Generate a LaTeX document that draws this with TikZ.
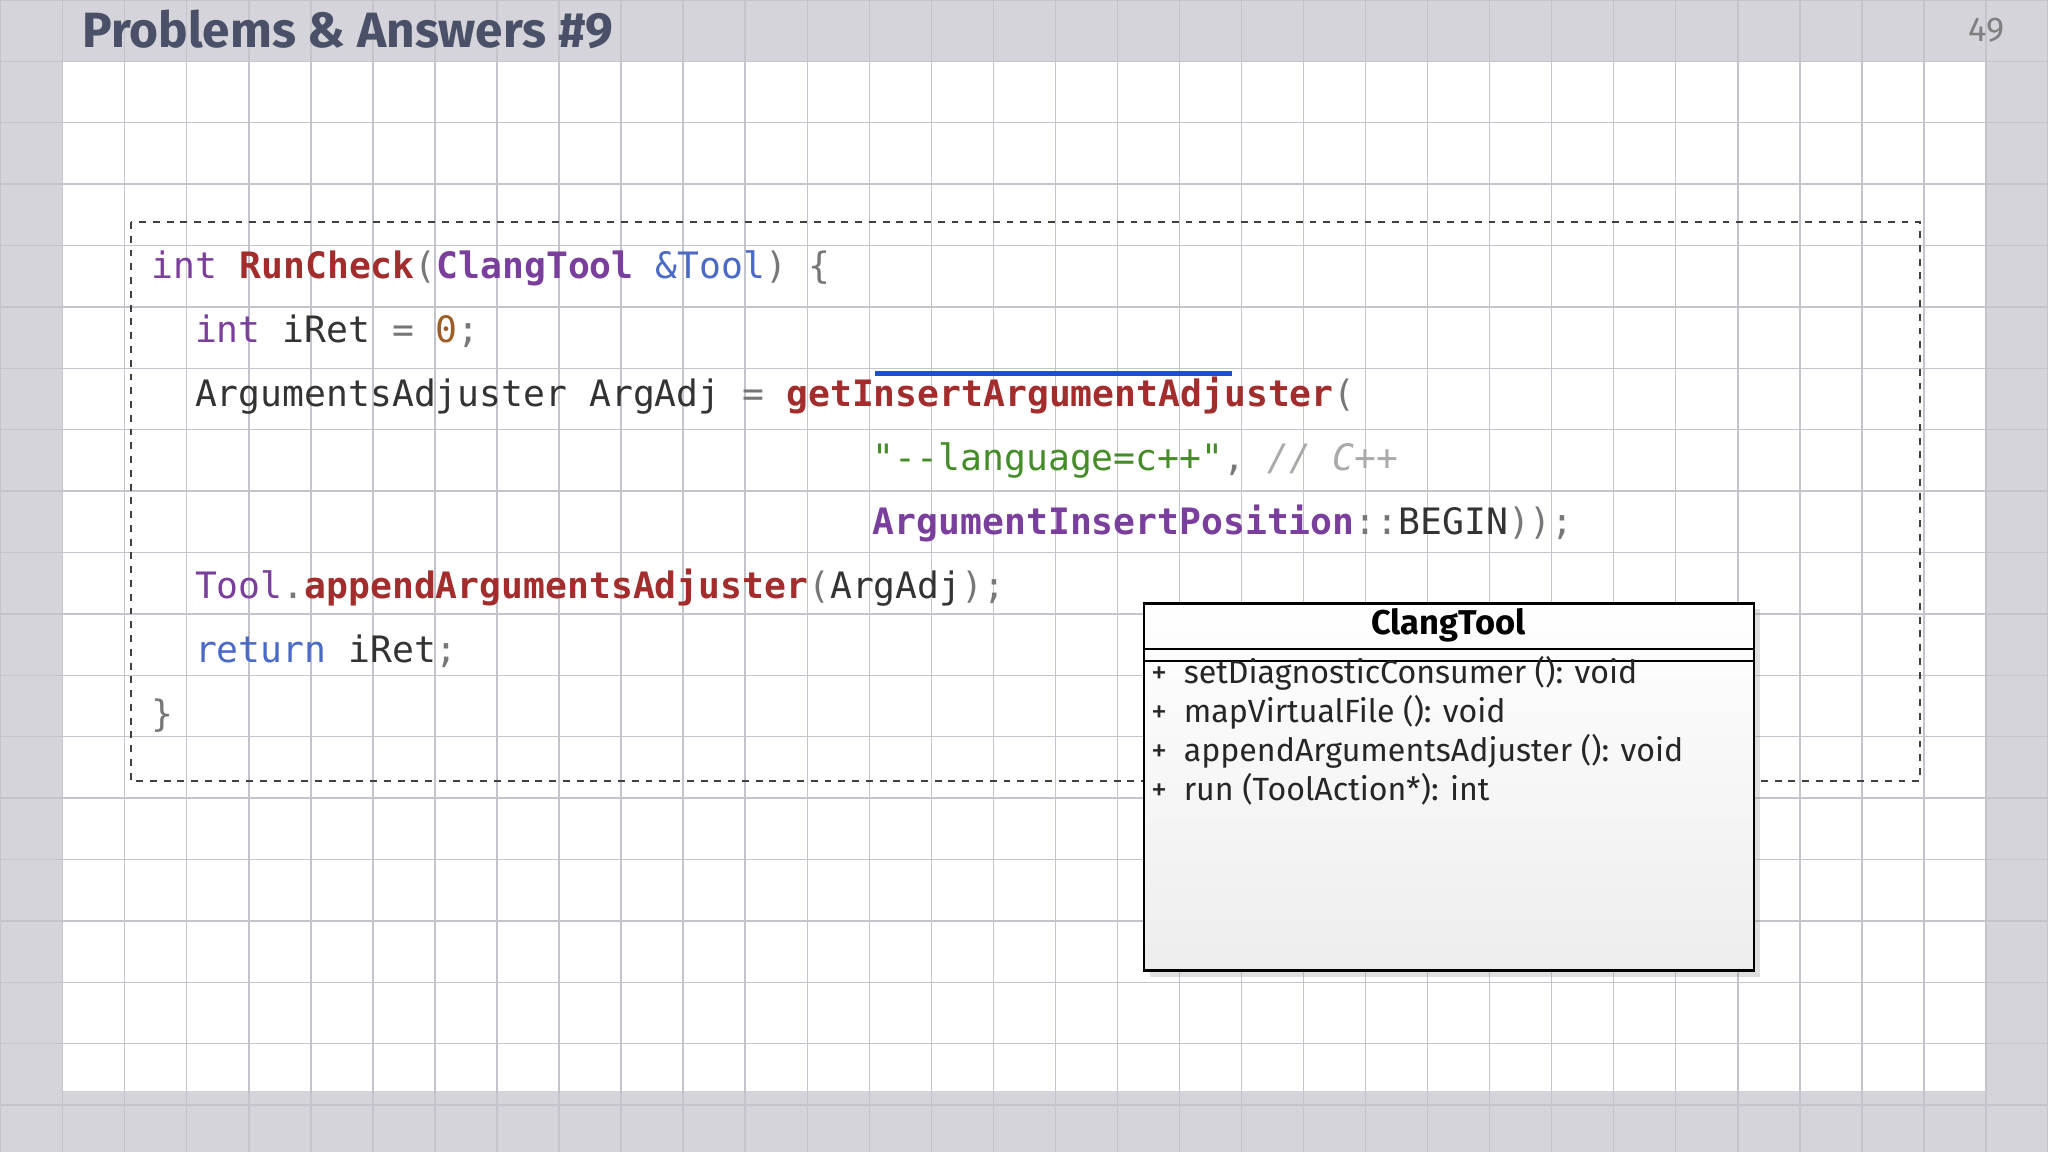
\documentclass[tikz,border=0pt]{standalone}
\usepackage{fontspec}
\setmainfont{Fira Sans}
\setsansfont{Fira Sans}
\setmonofont{DejaVu Sans Mono}
\usetikzlibrary{shadows}
\definecolor{bgout}{HTML}{D4D4DA}
\definecolor{gridc}{HTML}{C4C4CC}
\definecolor{titlec}{HTML}{4A5068}
\definecolor{kw}{HTML}{7A3E9D}
\definecolor{fn}{HTML}{A32D2D}
\definecolor{bl}{HTML}{4B69C6}
\definecolor{num}{HTML}{9C5D27}
\definecolor{str}{HTML}{448C27}
\definecolor{cmt}{HTML}{AAAAAA}
\definecolor{pun}{HTML}{777777}
\definecolor{txt}{HTML}{333333}
\definecolor{ul}{HTML}{1A4FD6}
\newcommand{\cK}[1]{\textcolor{kw}{#1}}
\newcommand{\cF}[1]{\textcolor{fn}{\bfseries #1}}
\newcommand{\cP}[1]{\textcolor{pun}{#1}}
\tikzset{
  code/.style={anchor=base west,inner sep=0pt,font=\ttfamily\fontsize{15.85}{18}\selectfont,text=txt},
  meth/.style={anchor=base west,inner sep=0pt,font=\sffamily\fontsize{14}{16}\selectfont,text=black!85},
}
\begin{document}
\begin{tikzpicture}[x=0.02cm,y=-0.02cm]
\useasboundingbox (0,0) rectangle (1568,882);
\fill[bgout] (0,0) rectangle (1568,882);
\fill[white] (48,47) rectangle (1520,835);
\foreach \i in {0,...,33} {\draw[gridc,line width=0.6pt] ({48+47.5*\i-47.5},0) -- ({48+47.5*\i-47.5},882);}
\foreach \j in {0,...,19} {\draw[gridc,line width=0.6pt] (0,{47+47*\j-47}) -- (1568,{47+47*\j-47});}
\node[anchor=base west,inner sep=0pt,text=titlec,font=\sffamily\bfseries\fontsize{21.6}{24}\selectfont] (title) at (63,36) {Problems \& Answers \#9};
\node[anchor=base east,inner sep=0pt,text=gray,font=\sffamily\fontsize{15}{18}\selectfont] (pg) at (1535,32) {49};
\draw[black!75,dashed,line width=0.8pt] (100,170) rectangle (1470,598);
\node[code] (l1) at (116,213) {\cK{int} \cF{RunCheck}\cP{(}\textcolor{kw}{\bfseries ClangTool} \textcolor{bl}{\&Tool}\cP{) \{}};
\node[code] (l2) at (149,262) {\cK{int} iRet \cP{=} \textcolor{num}{0}\cP{;}};
\node[code] (l3) at (149,311) {ArgumentsAdjuster ArgAdj \cP{=} \cF{getInsertArgumentAdjuster}\cP{(}};
\node[code] (l4) at (668,360) {\textcolor{str}{"--language=c++"}\cP{,} \textcolor{cmt}{\itshape // C++}};
\node[code] (l5) at (668,409) {\textcolor{kw}{\bfseries ArgumentInsertPosition}\cP{::}BEGIN\cP{));}};
\node[code] (l6) at (149,458) {\textcolor{kw}{Tool}\cP{.}\cF{appendArgumentsAdjuster}\cP{(}ArgAdj\cP{);}};
\node[code] (l7) at (149,507) {\textcolor{bl}{return} iRet\cP{;}};
\node[code] (l8) at (116,556) {\cP{\}}};
\draw[ul,line width=2.2pt] (670,286) -- (943,286);
\draw[black,line width=1pt,top color=white,bottom color=black!7,drop shadow={opacity=0.25}] (876,462) rectangle (1343,743);
\node[anchor=center,inner sep=0pt,font=\sffamily\bfseries\fontsize{15}{18}\selectfont] (ct) at (1109,479) {ClangTool};
\draw[black,line width=0.8pt] (876,497) -- (1343,497);
\draw[black,line width=0.8pt] (876,506) -- (1343,506);
\foreach \t [count=\n] in {setDiagnosticConsumer (): void,mapVirtualFile (): void,appendArgumentsAdjuster (): void,run (ToolAction*): int}{
  \node[meth] (p\n) at (881,{523+30*(\n-1)}) {+};
  \node[meth] (m\n) at (906,{523+30*(\n-1)}) {\t};
}
\end{tikzpicture}
\end{document}
